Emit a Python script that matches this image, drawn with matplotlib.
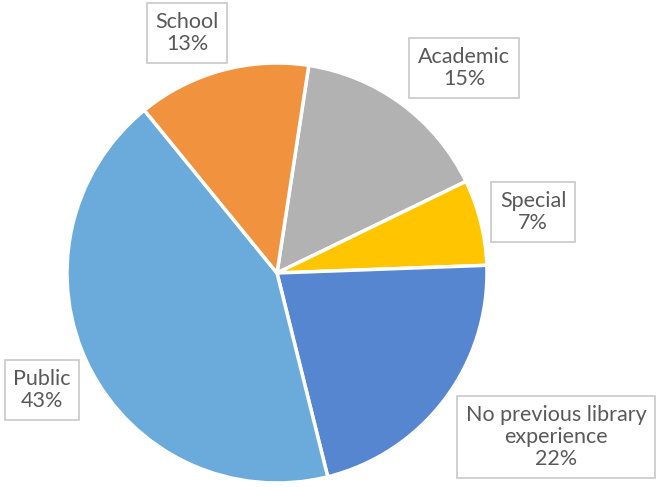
import matplotlib.pyplot as plt

# Datos del gráfico (orden de las porciones, sentido horario desde arriba)
categories = ["Academic", "Special", "No previous library\nexperience", "Public", "School"]
shares = [15.4, 6.6, 21.7, 43.0, 13.3]
pct_labels = ["15%", "7%", "22%", "43%", "13%"]
colors = ["#B2B2B2", "#FFC600", "#5686D0", "#6AABDB", "#F1923F"]

# posiciones de las etiquetas (pixeles, origen arriba a la izquierda)
label_pos = [(464, 68), (533, 212), (556, 437), (42, 390), (187, 33)]

W, H = 657, 487
fig = plt.figure(figsize=(W / 100, H / 100), dpi=100)
ax = fig.add_axes([0, 0, 1, 1])

ax.pie(
    shares,
    colors=colors,
    startangle=81.3,
    counterclock=False,
    center=(277, H - 273),
    radius=210,
    frame=True,
    wedgeprops=dict(edgecolor="white", linewidth=2.5),
)
ax.set_xlim(0, W)
ax.set_ylim(0, H)
ax.set_aspect("equal")
ax.axis("off")

for name, pct, (x, y) in zip(categories, pct_labels, label_pos):
    ax.text(
        x, H - y, f"{name}\n{pct}",
        ha="center", va="center", multialignment="center",
        fontsize=15.5, family=["Lato", "DejaVu Sans"], color="#595959",
        linespacing=1.15,
        bbox=dict(boxstyle="square,pad=0.4", facecolor="white",
                  edgecolor="#C8C8C8", linewidth=1.2),
    )

fig.savefig("out.png", dpi=100)
